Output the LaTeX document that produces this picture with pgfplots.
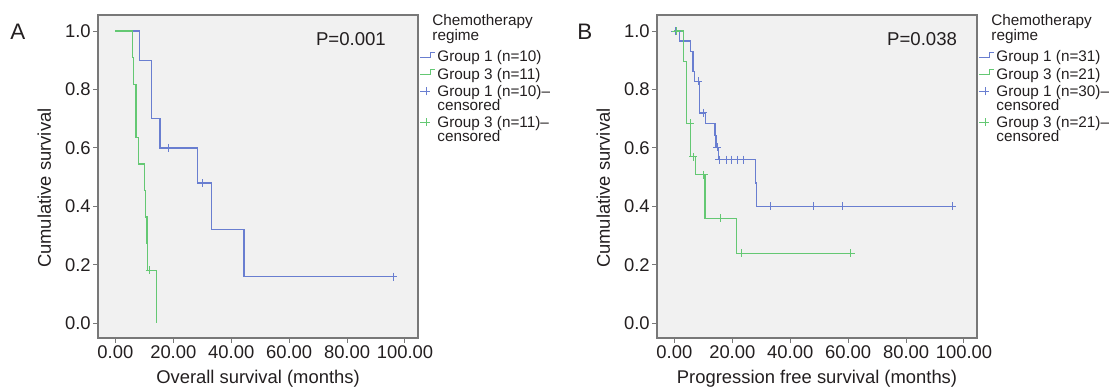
\documentclass[border=0pt]{standalone}
\usepackage{fontspec}
\setmainfont{Liberation Sans}
\usepackage{pgfplots}
\pgfplotsset{compat=1.18}

\definecolor{c1}{RGB}{105,126,208}
\definecolor{c3}{RGB}{100,200,115}
\definecolor{bg}{RGB}{241,241,241}
\definecolor{ax}{RGB}{120,120,120}
\definecolor{tx}{RGB}{35,31,32}

\pgfplotsset{km/.style={
  scale only axis, width=160pt, height=161.5pt,
  xmin=-6, xmax=104.5, ymin=-0.05, ymax=1.055,
  axis background/.style={fill=bg},
  axis line style={ax, line width=0.6pt},
  xtick={0,20,40,60,80,100}, ytick={0,0.2,0.4,0.6,0.8,1.0},
  tick align=outside, xtick pos=bottom, ytick pos=left,
  major tick length=2.5pt,
  tick style={ax, line width=0.5pt},
  xticklabel={\pgfmathprintnumber[fixed,fixed zerofill,precision=2,assume math mode=true]{\tick}},
  yticklabel={\pgfmathprintnumber[fixed,fixed zerofill,precision=1,assume math mode=true]{\tick}},
  tick label style={font=\fontsize{9.2}{11}\selectfont, text=tx, inner sep=1pt},
  label style={font=\fontsize{9.2}{11}\selectfont, text=tx},
  xlabel style={at={(axis description cs:0.5,0)}, anchor=base, yshift=-23pt},
  ylabel style={at={(axis description cs:-0.168,0.464)}, anchor=center},
  clip=false,
  legend cell align=left,
  legend style={draw=none, fill=none, at={(rel axis cs:1.005,0.998)}, anchor=north west,
    inner sep=0pt, outer sep=0pt, row sep=0pt, column sep=0.8pt,
    font=\fontsize{7.65}{9}\selectfont, text=tx},
}}
\newcommand{\stepimg}[1]{\addlegendimage{legend image code/.code={\draw[#1,line width=0.6pt] (0pt,1.6pt) -- (5.3pt,1.6pt) -- (5.3pt,4.1pt) -- (7.5pt,4.1pt);}}}
\newcommand{\censimg}[1]{\addlegendimage{legend image code/.code={\draw[#1,line width=0.6pt] (0pt,1pt) -- (4.7pt,1pt); \draw[#1,line width=0.5pt] (3.3pt,-1pt) -- (3.3pt,3pt);}}}

\begin{document}
\begin{tikzpicture}
\path[use as bounding box] (0,0) rectangle (555.5pt,194.5pt);

% ---------------- Panel A ----------------
\begin{axis}[km, at={(49pt,25.5pt)}, anchor=south west,
  xlabel={Overall survival (months)}, ylabel={Cumulative survival}]
\addplot[c1, line width=0.6pt, const plot, forget plot] coordinates {
(0,1) (8.3,0.9) (12.4,0.8) (12.6,0.7) (15.4,0.6) (28.4,0.48) (33.3,0.32) (44.4,0.16) (96.0,0.16)};
\addplot[c3, line width=0.6pt, const plot, forget plot] coordinates {
(0,1) (5.8,0.909) (6.2,0.818) (7.1,0.636) (8.05,0.545) (10.1,0.455) (10.5,0.364) (10.9,0.273) (11.2,0.182) (14.1,0)};
\addplot[c1, only marks, mark=+, mark size=2pt, mark options={line width=0.5pt}, forget plot] coordinates {
(18.3,0.6) (30.2,0.48) (96.0,0.16)};
\addplot[c3, only marks, mark=+, mark size=2pt, mark options={line width=0.5pt}, forget plot] coordinates {
(11.95,0.182)};
\node[anchor=base west, font=\fontsize{9.3}{11}\selectfont, text=tx, inner sep=0pt] at (rel axis cs:0.680,0.907) {P=0.001};
\addlegendimage{empty legend}\addlegendentry[text height=5pt,text depth=2.25pt,inner sep=0pt]{\hspace*{-2.5pt}Chemotherapy}
\addlegendimage{empty legend}\addlegendentry[text height=5pt,text depth=5.75pt,inner sep=0pt]{\hspace*{-2.5pt}regime}
\stepimg{c1}\addlegendentry[text height=5pt,text depth=3.75pt,inner sep=0pt]{Group 1 (n=10)}
\stepimg{c3}\addlegendentry[text height=5pt,text depth=3.75pt,inner sep=0pt]{Group 3 (n=11)}
\censimg{c1}\addlegendentry[text height=5pt,text depth=1.75pt,inner sep=0pt]{Group 1 (n=10)–}
\addlegendimage{empty legend}\addlegendentry[text height=5pt,text depth=3.5pt,inner sep=0pt]{censored}
\censimg{c3}\addlegendentry[text height=5pt,text depth=2pt,inner sep=0pt]{Group 3 (n=11)–}
\addlegendimage{empty legend}\addlegendentry[text height=5pt,text depth=2pt,inner sep=0pt]{censored}
\end{axis}

% ---------------- Panel B ----------------
\begin{axis}[km, at={(328.5pt,25.5pt)}, anchor=south west,
  xlabel={Progression free survival (months)}, ylabel={Cumulative survival}]
\addplot[c1, line width=0.6pt, const plot, forget plot] coordinates {
(0,1) (1.9,0.966) (5.6,0.931) (6.4,0.862) (7.0,0.828) (8.7,0.72) (10.8,0.683) (14.0,0.643) (14.4,0.603) (15.1,0.56) (28.0,0.48) (28.3,0.40) (96.0,0.40)};
\addplot[c3, line width=0.6pt, const plot, forget plot] coordinates {
(0,1) (3.1,0.895) (4.2,0.684) (5.6,0.57) (7.3,0.508) (10.6,0.359) (21.5,0.24) (60.9,0.24)};
\addplot[c1, only marks, mark=+, mark size=2pt, mark options={line width=0.5pt}, forget plot] coordinates {
(0.3,1) (0.8,1) (8.3,0.828) (10.0,0.72) (14.8,0.603) (15.5,0.56) (18.1,0.56) (19.8,0.56) (21.7,0.56) (24.0,0.56) (33.3,0.40) (48.2,0.40) (58.1,0.40) (96.0,0.40)};
\addplot[c3, only marks, mark=+, mark size=2pt, mark options={line width=0.5pt}, forget plot] coordinates {
(0.6,1) (5.4,0.684) (6.5,0.57) (10.2,0.508) (16.0,0.359) (23.2,0.24) (60.9,0.24)};
\node[anchor=base west, font=\fontsize{9.3}{11}\selectfont, text=tx, inner sep=0pt] at (rel axis cs:0.718,0.907) {P=0.038};
\addlegendimage{empty legend}\addlegendentry[text height=5pt,text depth=2.25pt,inner sep=0pt]{\hspace*{-2.5pt}Chemotherapy}
\addlegendimage{empty legend}\addlegendentry[text height=5pt,text depth=5.75pt,inner sep=0pt]{\hspace*{-2.5pt}regime}
\stepimg{c1}\addlegendentry[text height=5pt,text depth=3.75pt,inner sep=0pt]{Group 1 (n=31)}
\stepimg{c3}\addlegendentry[text height=5pt,text depth=3.75pt,inner sep=0pt]{Group 3 (n=21)}
\censimg{c1}\addlegendentry[text height=5pt,text depth=1.75pt,inner sep=0pt]{Group 1 (n=30)–}
\addlegendimage{empty legend}\addlegendentry[text height=5pt,text depth=3.5pt,inner sep=0pt]{censored}
\censimg{c3}\addlegendentry[text height=5pt,text depth=2pt,inner sep=0pt]{Group 3 (n=21)–}
\addlegendimage{empty legend}\addlegendentry[text height=5pt,text depth=2pt,inner sep=0pt]{censored}
\end{axis}

\node[anchor=base west, font=\fontsize{11.2}{13}\selectfont, text=tx, inner sep=0pt] at (5pt,174.5pt) {A};
\node[anchor=base west, font=\fontsize{11.2}{13}\selectfont, text=tx, inner sep=0pt] at (288.5pt,174.5pt) {B};
\end{tikzpicture}
\end{document}
